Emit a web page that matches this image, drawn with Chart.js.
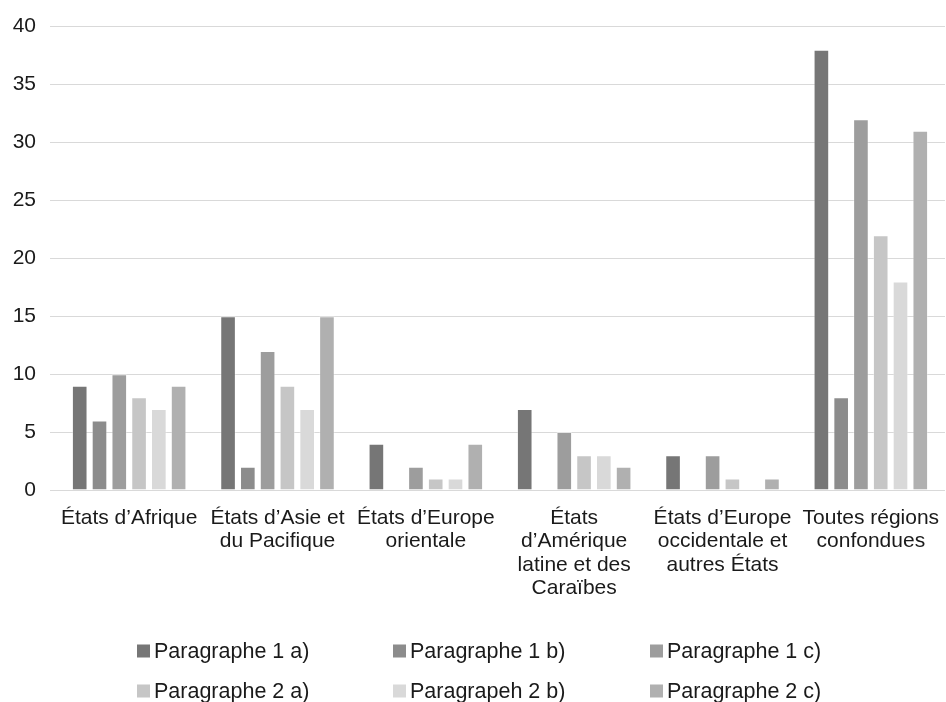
<!DOCTYPE html>
<html><head><meta charset="utf-8">
<script src="https://cdn.jsdelivr.net/npm/chart.js@4.4.0/dist/chart.umd.min.js"></script>
<style>
html,body{margin:0;padding:0;background:#fff;}
#wrap{position:relative;width:946px;height:702px;overflow:hidden;}
#legend{position:absolute;left:0;top:0;width:946px;height:702px;pointer-events:none;font-family:"Liberation Sans",Arial,sans-serif;font-size:21.5px;color:#1a1a1a;}
.item{position:absolute;display:flex;align-items:center;white-space:nowrap;transform:translateY(-50%);}
.box{width:13px;height:13px;margin-right:4px;flex:none;}
</style></head>
<body><div id="wrap"><canvas id="c" width="946" height="702"></canvas><div id="legend"></div></div>
<script>
const categories = [
  ["États d’Afrique"],
  ["États d’Asie et", "du Pacifique"],
  ["États d’Europe", "orientale"],
  ["États", "d’Amérique", "latine et des", "Caraïbes"],
  ["États d’Europe", "occidentale et", "autres États"],
  ["Toutes régions", "confondues"]
];
const seriesNames = ["Paragraphe 1 a)", "Paragraphe 1 b)", "Paragraphe 1 c)", "Paragraphe 2 a)", "Paragrapeh 2 b)", "Paragraphe 2 c)"];
const para1a = [9, 15, 4, 7, 3, 38];
const para1b = [6, 2, 0, 0, 0, 8];
const para1c = [10, 12, 2, 5, 3, 32];
const para2a = [8, 9, 1, 3, 1, 22];
const para2b = [7, 7, 1, 3, 0, 18];
const para2c = [9, 15, 4, 2, 1, 31];
const yTicks = [0, 5, 10, 15, 20, 25, 30, 35, 40];

const seriesValues = [para1a, para1b, para1c, para2a, para2b, para2c];
const colors = ["#767676", "#8c8c8c", "#9d9d9d", "#c6c6c6", "#d9d9d9", "#b0b0b0"];
const FONT = "'Liberation Sans', Arial, sans-serif";

const datasets = seriesValues.map((vals, i) => ({
  label: seriesNames[i],
  data: vals,
  backgroundColor: colors[i],
  borderColor: "rgba(255,255,255,0.35)",
  borderWidth: 1,
  categoryPercentage: 0.8,
  barPercentage: 0.79
}));

new Chart(document.getElementById("c"), {
  type: "bar",
  data: { labels: categories, datasets },
  options: {
    responsive: false,
    animation: false,
    layout: { padding: { top: 14, right: 1, bottom: 0, left: 0 } },
    plugins: { legend: { display: false }, tooltip: { enabled: false } },
    scales: {
      x: {
        grid: { display: false, drawTicks: false },
        border: { display: false },
        ticks: {
          color: "#1a1a1a",
          font: { family: FONT, size: 21, lineHeight: 1.12 },
          padding: 16,
          maxRotation: 0,
          minRotation: 0,
          autoSkip: false
        },
        afterFit: s => { s.height = 212; s.paddingRight = 0; s.paddingLeft = 0; }
      },
      y: {
        min: yTicks[0],
        max: yTicks[yTicks.length - 1],
        afterBuildTicks: s => { s.ticks = yTicks.map(v => ({ value: v })); },
        grid: { color: "#d9d9d9", lineWidth: 1, drawTicks: true, tickLength: 5 },
        border: { display: false },
        ticks: {
          color: "#1a1a1a",
          font: { family: FONT, size: 21 },
          padding: 14
        },
        afterFit: s => { s.width = 55; }
      }
    }
  }
});

const legend = document.getElementById("legend");
const colX = [137, 393, 650];
const rowY = [651, 691];
seriesNames.forEach((name, i) => {
  const d = document.createElement("div");
  d.className = "item";
  d.style.left = colX[i % 3] + "px";
  d.style.top = rowY[Math.floor(i / 3)] + "px";
  const b = document.createElement("span");
  b.className = "box";
  b.style.background = colors[i];
  const t = document.createElement("span");
  t.textContent = name;
  d.appendChild(b); d.appendChild(t);
  legend.appendChild(d);
});
</script>
</body></html>
